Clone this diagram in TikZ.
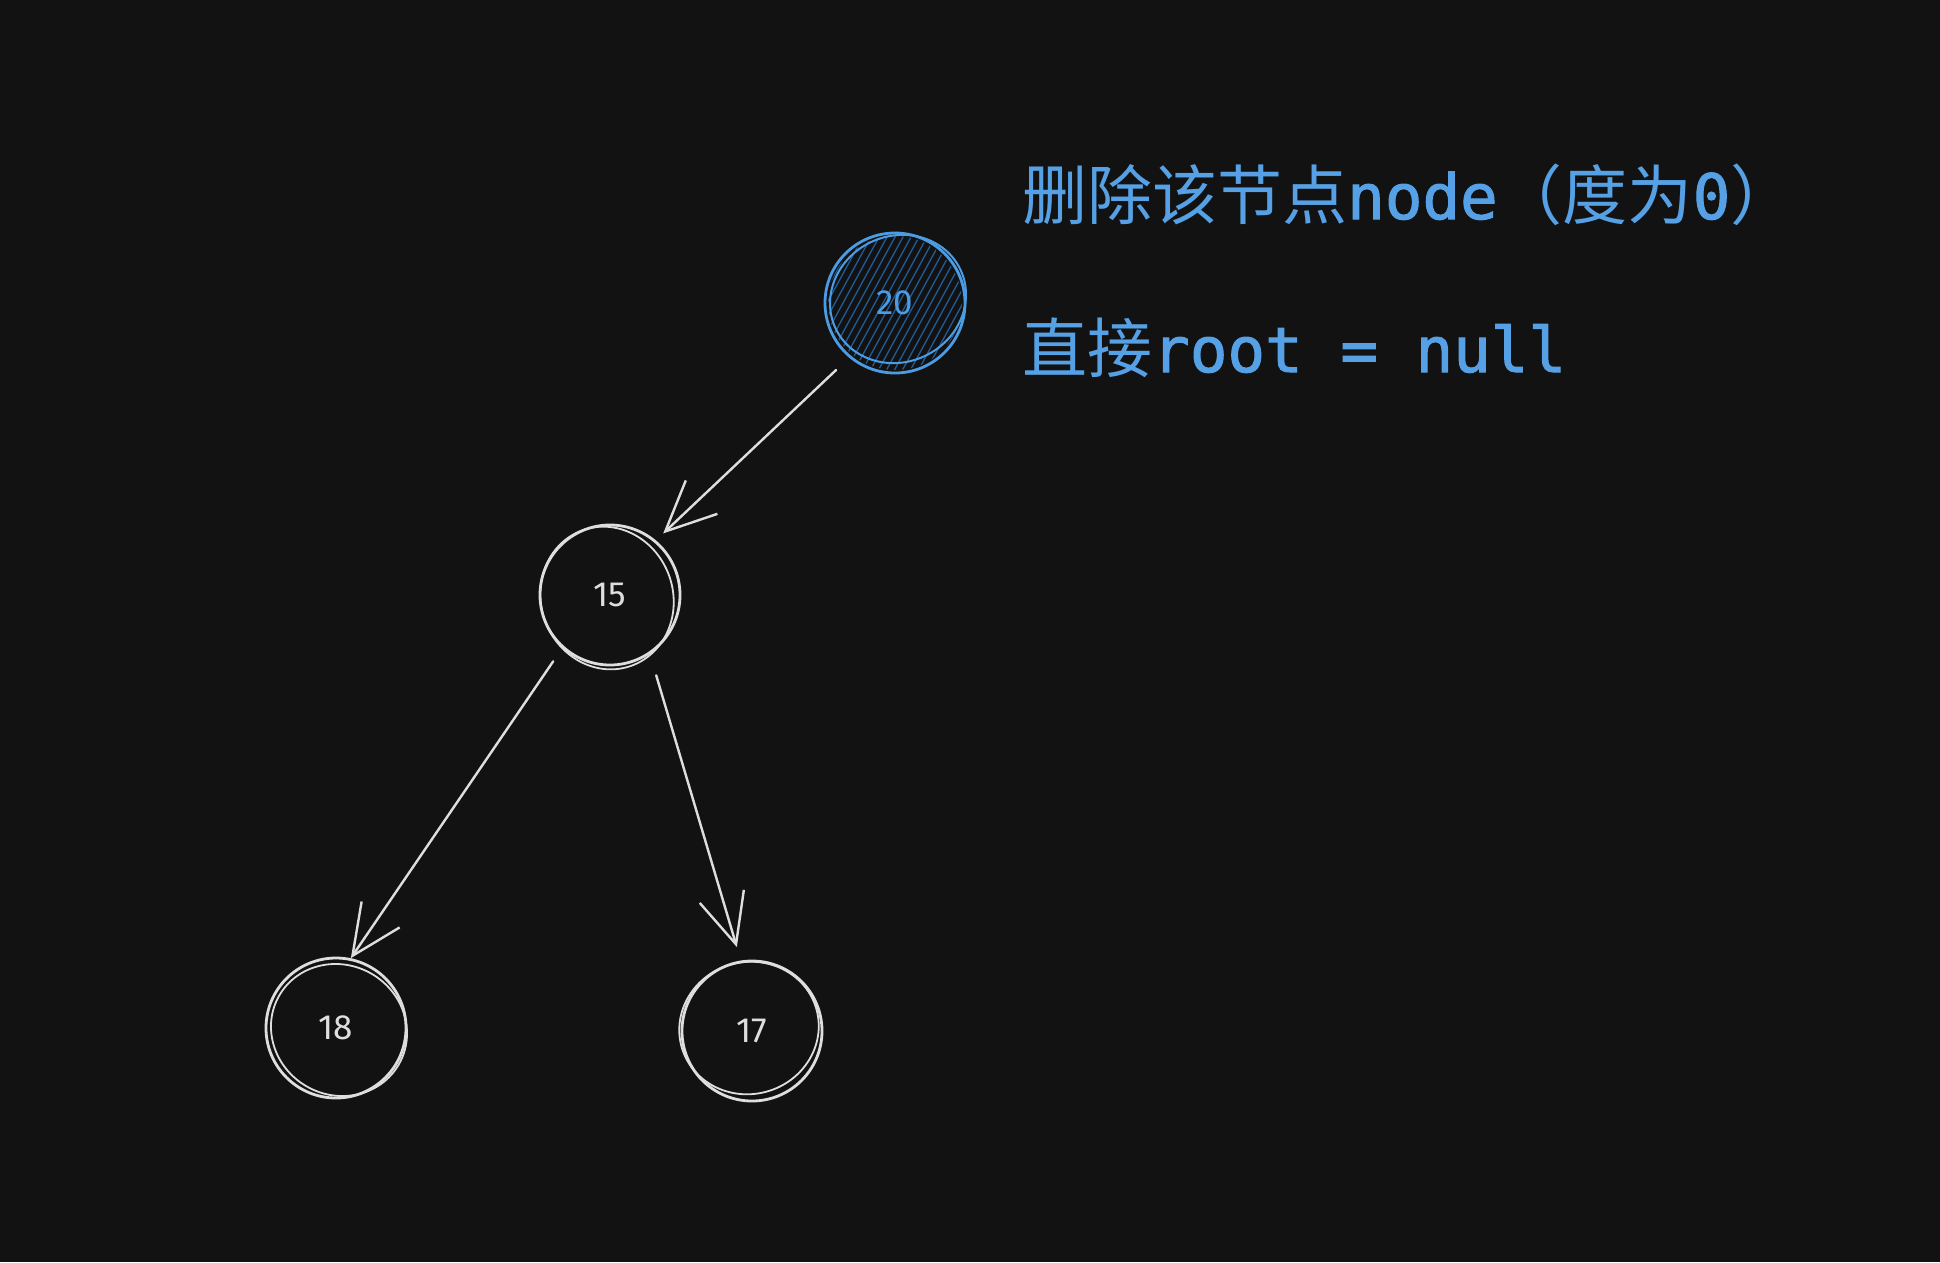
\documentclass[tikz,border=0pt]{standalone}
\usepackage{fontspec}
\newfontfamily\cjkfont{Noto Sans CJK SC}
\newfontfamily\monofont[FakeBold=1.6]{DejaVu Sans Mono}
\newfontfamily\digitfont{Fira Sans}
\usetikzlibrary{arrows.meta,calc}
\definecolor{bg}{RGB}{18,18,18}
\definecolor{ink}{RGB}{222,222,222}
\definecolor{tblue}{RGB}{86,161,229}
\definecolor{cblue}{RGB}{76,156,228}
\definecolor{hblue}{RGB}{34,92,150}
\newcommand\zhtext[1]{{\cjkfont\fontsize{65pt}{72pt}\selectfont #1}}
\newcommand\mtext[1]{{\monofont\fontsize{62.5pt}{72pt}\selectfont #1}}
\begin{document}
\begin{tikzpicture}[x=1pt,y=-1pt,
  circ/.style={circle,minimum size=140pt,inner sep=0pt,draw=ink,line width=2.8pt,text=ink,
    font=\digitfont\fontsize{35pt}{40pt}\selectfont},
  bluecirc/.style={circ,draw=cblue,text=cblue},
  sk/.style={draw=ink,line width=1.8pt},
  skblue/.style={draw=cblue,line width=2pt},
  hach/.style={draw=hblue,line width=1.3pt},
  arr/.style={draw=ink,line width=2.4pt,line cap=round,line join=round,
    -{Straight Barb[length=50pt,width=46pt,line width=2.4pt]}},
  label/.style={anchor=base west,inner sep=0pt,text=tblue}]
\fill[bg] (0,0) rectangle (1940,1262);
\useasboundingbox (0,0) rectangle (1940,1262);
% hachure fill for the root node
\begin{scope}
  \clip (895,303) circle (67pt);
  \foreach \i in {-260,-252,...,260}
    \draw[hach] ($(895,303)+(\i,0)+(-60,110)$) -- ++(120,-220);
\end{scope}
% nodes
\node[bluecirc] (n20) at (895,303) {20};
\node[circ] (n15) at (610,595) {15};
\node[circ] (n18) at (336,1028) {18};
\node[circ] (n17) at (752,1031) {17};
% sketchy second strokes
\draw[skblue] ($(n20.center)+(3,-4)$) ellipse [x radius=69pt,y radius=63pt,rotate=25];
\draw[sk] ($(n15.center)+(-3,3)$) ellipse [x radius=66pt,y radius=72pt,rotate=20];
\draw[sk] ($(n18.center)+(3,2)$) ellipse [x radius=69pt,y radius=65pt,rotate=-30];
\draw[sk] ($(n17.center)+(-3,-3)$) ellipse [x radius=70pt,y radius=66pt,rotate=15];
% connectors
\draw[arr,shorten <=18pt,shorten >=10pt] (n20.230) -- (n15.50);
\draw[arr,shorten <=16pt] (n15.228) -- (n18.78);
\draw[arr,shorten <=22pt,shorten >=14pt] (n15.304) -- (n17.99);
% texts
\node[label] (t1) at (1022,219) {\zhtext{删除该节点}\mtext{node}\zhtext{（度为}\mtext{0}\zhtext{）}};
\node[label] (t2) at (1022,372) {\zhtext{直接}\mtext{root = null}};
\end{tikzpicture}
\end{document}
